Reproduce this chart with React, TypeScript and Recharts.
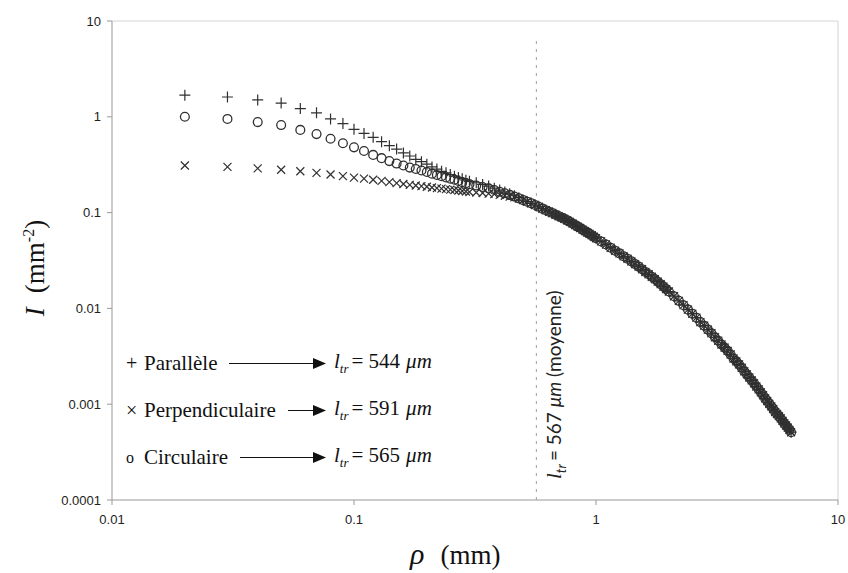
import React from 'react';
import { ScatterChart, Scatter, XAxis, YAxis, ReferenceLine } from 'recharts';

// rho (mm) where the three polarisations are still distinct
const RHO_HEAD = [
  0.02, 0.03, 0.04, 0.05, 0.06, 0.07, 0.08, 0.09, 0.1, 0.11, 0.12, 0.13, 0.14, 0.15, 0.16,
  0.17, 0.18, 0.19, 0.2, 0.21, 0.22, 0.23, 0.24, 0.25, 0.26, 0.27, 0.28, 0.29, 0.3,
  0.32, 0.34, 0.36, 0.38, 0.4, 0.42, 0.44, 0.46, 0.48,
];
const I_PARALLELE = [
  1.68, 1.61, 1.5, 1.39, 1.22, 1.1, 0.95, 0.85, 0.74, 0.67, 0.61, 0.55, 0.5, 0.46, 0.42,
  0.39, 0.36, 0.34, 0.32, 0.3, 0.285, 0.27, 0.26, 0.25, 0.24, 0.232, 0.225, 0.218, 0.212,
  0.205, 0.197, 0.189, 0.18, 0.172, 0.164, 0.157, 0.15, 0.143,
];
const I_PERPENDICULAIRE = [
  0.31, 0.3, 0.29, 0.28, 0.27, 0.26, 0.25, 0.24, 0.232, 0.226, 0.22, 0.214, 0.208, 0.203, 0.199,
  0.195, 0.192, 0.189, 0.186, 0.183, 0.18, 0.178, 0.176, 0.174, 0.172, 0.17, 0.168, 0.166, 0.164,
  0.162, 0.16, 0.158, 0.156, 0.153, 0.15, 0.147, 0.144, 0.14,
];
const I_CIRCULAIRE = [
  1.0, 0.95, 0.88, 0.82, 0.73, 0.66, 0.59, 0.53, 0.48, 0.44, 0.4, 0.37, 0.345, 0.325, 0.31,
  0.295, 0.285, 0.275, 0.265, 0.255, 0.247, 0.24, 0.233, 0.226, 0.22, 0.214, 0.208, 0.203, 0.198,
  0.192, 0.185, 0.179, 0.172, 0.165, 0.159, 0.153, 0.147, 0.141,
];

// beyond ~0.5 mm the three curves overlap into one band
const RHO_TAIL = [
  0.5, 0.52, 0.54, 0.56, 0.58, 0.6, 0.62, 0.64, 0.66, 0.68, 0.7, 0.72, 0.74, 0.76, 0.78,
  0.8, 0.82, 0.84, 0.86, 0.88, 0.9, 0.92, 0.94, 0.96, 0.98, 1.0,
  1.05, 1.1, 1.15, 1.2, 1.25, 1.3, 1.35, 1.4, 1.45, 1.5, 1.55, 1.6, 1.65, 1.7, 1.75, 1.8, 1.85, 1.9, 1.95, 2.0,
  2.1, 2.2, 2.3, 2.4, 2.5, 2.6, 2.7, 2.8, 2.9, 3.0, 3.1, 3.2, 3.3, 3.4, 3.5, 3.6, 3.7, 3.8, 3.9, 4.0,
  4.1, 4.2, 4.3, 4.4, 4.5, 4.6, 4.7, 4.8, 4.9, 5.0, 5.1, 5.2, 5.3, 5.4, 5.5, 5.6, 5.7, 5.8, 5.9, 6.0,
  6.1, 6.2, 6.3, 6.4,
];
const I_TAIL = [
  0.135, 0.13, 0.125, 0.12, 0.115, 0.11, 0.106, 0.102, 0.099, 0.095, 0.092, 0.089, 0.086, 0.083, 0.08,
  0.077, 0.074, 0.0715, 0.069, 0.0665, 0.064, 0.062, 0.06, 0.058, 0.056, 0.054,
  0.05, 0.0465, 0.043, 0.04, 0.0375, 0.035, 0.033, 0.031, 0.029, 0.0273, 0.0256, 0.024, 0.0227, 0.0214,
  0.0202, 0.019, 0.0179, 0.0169, 0.0159, 0.015,
  0.0134, 0.012, 0.0108, 0.0097, 0.0088, 0.008, 0.0072, 0.0066, 0.006, 0.0055, 0.005, 0.0046, 0.0042,
  0.0039, 0.0036, 0.0033, 0.003, 0.0028, 0.0026, 0.0024,
  0.0022, 0.00205, 0.0019, 0.00177, 0.00165, 0.00153, 0.00143, 0.00133, 0.00124, 0.00115,
  0.00108, 0.00101, 0.00095, 0.00089, 0.00083, 0.00079, 0.00075, 0.00071, 0.00067, 0.00063,
  0.0006, 0.00057, 0.00054, 0.00051,
];

const X_TICKS = [0.01, 0.1, 1, 10];
const Y_TICKS = [0.0001, 0.001, 0.01, 0.1, 1, 10];
const LTR_MEAN = 0.567;
const LEGEND_ROWS = [
  { symbol: '+', name: 'Parallèle', ltr: 544 },
  { symbol: '×', name: 'Perpendiculaire', ltr: 591 },
  { symbol: 'o', name: 'Circulaire', ltr: 565 },
];

const INK = '#303030';
const SERIF = '"Liberation Serif", "Times New Roman", serif';
const SANS = '"Liberation Sans", Arial, sans-serif';

const toPoints = (head: number[]) =>
  RHO_HEAD.map((rho, i) => ({ rho, I: head[i] })).concat(RHO_TAIL.map((rho, i) => ({ rho, I: I_TAIL[i] })));

const Plus = (p: any) => (
  <path d={`M${p.cx - 5.5},${p.cy}h11M${p.cx},${p.cy - 5.5}v11`} stroke={INK} strokeWidth={1.2} fill="none" />
);
const Cross = (p: any) => (
  <path d={`M${p.cx - 4},${p.cy - 4}l8,8M${p.cx - 4},${p.cy + 4}l8,-8`} stroke={INK} strokeWidth={1.2} fill="none" />
);
const Ring = (p: any) => <circle cx={p.cx} cy={p.cy} r={4.4} stroke={INK} strokeWidth={1.3} fill="none" />;

const MeanLabel = (props: any) => {
  const vb = props.viewBox || {};
  const x = vb.x + 25;
  const y = 479;
  return (
    <text transform={`translate(${x},${y}) rotate(-90)`} fontFamily='Lato, "Open Sans", sans-serif' fontSize={19} fill="#222">
      <tspan fontFamily={SERIF} fontStyle="italic" fontSize={21}>l</tspan>
      <tspan dy={5} fontSize={13} fontStyle="italic">tr</tspan>
      <tspan dy={-5} dx={3}>= 567 </tspan>
      <tspan fontStyle="italic">μm</tspan>
      <tspan> (moyenne)</tspan>
    </text>
  );
};

const XTitle = (props: any) => {
  const vb = props.viewBox || {};
  return (
    <text x={vb.x + vb.width / 2 - 65} y={vb.y + 64} fontFamily={SERIF} fontSize={27} fill="#111">
      <tspan fontStyle="italic" fontSize={30}>ρ</tspan>
      <tspan dx={16}>(mm)</tspan>
    </text>
  );
};

const YTitle = () => (
  <text transform="translate(44,268) rotate(-90)" textAnchor="middle" fontFamily={SERIF} fontSize={27} fill="#111">
    <tspan fontStyle="italic">I</tspan>
    <tspan dx={14}>(mm</tspan>
    <tspan dy={-10} fontSize={16}>-2</tspan>
    <tspan dy={10}>)</tspan>
  </text>
);

function LegendBox() {
  return (
    <div style={{ position: 'absolute', left: 126, top: 340, fontFamily: SERIF, fontSize: 21, color: '#111' }}>
      {LEGEND_ROWS.map((r) => (
        <div key={r.name} style={{ display: 'flex', alignItems: 'center', height: 47 }}>
          <div style={{ width: 200, display: 'flex', alignItems: 'center' }}>
            <span style={{ width: 18, fontSize: r.symbol === 'o' ? 16 : 20 }}>{r.symbol}</span>
            <span>{r.name}</span>
            <span style={{ flex: 1, display: 'flex', alignItems: 'center', marginLeft: 12 }}>
              <span style={{ flex: 1, height: 1.5, background: '#111' }} />
              <svg width={13} height={11} style={{ display: 'block' }}>
                <path d="M0,0 L13,5.5 L0,11 z" fill="#111" />
              </svg>
            </span>
          </div>
          <span style={{ marginLeft: 8, whiteSpace: 'nowrap' }}>
            <i>l</i>
            <sub style={{ fontSize: 13, fontStyle: 'italic' }}>tr</sub>
            <span style={{ marginLeft: 3 }}>= {r.ltr}</span>
            <i style={{ marginLeft: 6 }}>μm</i>
          </span>
        </div>
      ))}
    </div>
  );
}

export default function App() {
  return (
    <div style={{ position: 'absolute', left: 0, top: 0, width: 848, height: 573, background: '#fff' }}>
      <ScatterChart width={848} height={573} margin={{ top: 21, right: 10, bottom: 33, left: 52 }}>
        <XAxis
          type="number"
          dataKey="rho"
          scale="log"
          domain={[0.01, 10]}
          ticks={X_TICKS}
          allowDataOverflow
          height={40}
          tickSize={5}
          tickMargin={10}
          tick={{ fontSize: 13, fill: '#222', fontFamily: SANS }}
          axisLine={{ stroke: '#999' }}
          tickLine={{ stroke: '#999' }}
          label={XTitle}
        />
        <YAxis
          type="number"
          dataKey="I"
          scale="log"
          domain={[0.0001, 10]}
          ticks={Y_TICKS}
          allowDataOverflow
          width={60}
          tickSize={5}
          tickMargin={6}
          tick={{ fontSize: 13, fill: '#222', fontFamily: SANS }}
          axisLine={{ stroke: '#999' }}
          tickLine={{ stroke: '#999' }}
          label={YTitle}
        />
        <ReferenceLine y={10} stroke="#d4d4d4" />
        <ReferenceLine x={10} stroke="#d4d4d4" />
        <ReferenceLine
          segment={[{ x: LTR_MEAN, y: 0.0001 }, { x: LTR_MEAN, y: 6.5 }]}
          stroke="#a0a0a0"
          strokeDasharray="3 5"
          label={MeanLabel}
        />
        <Scatter name="Parallèle" data={toPoints(I_PARALLELE)} shape={Plus} isAnimationActive={false} />
        <Scatter name="Perpendiculaire" data={toPoints(I_PERPENDICULAIRE)} shape={Cross} isAnimationActive={false} />
        <Scatter name="Circulaire" data={toPoints(I_CIRCULAIRE)} shape={Ring} isAnimationActive={false} />
      </ScatterChart>
      <LegendBox />
    </div>
  );
}
